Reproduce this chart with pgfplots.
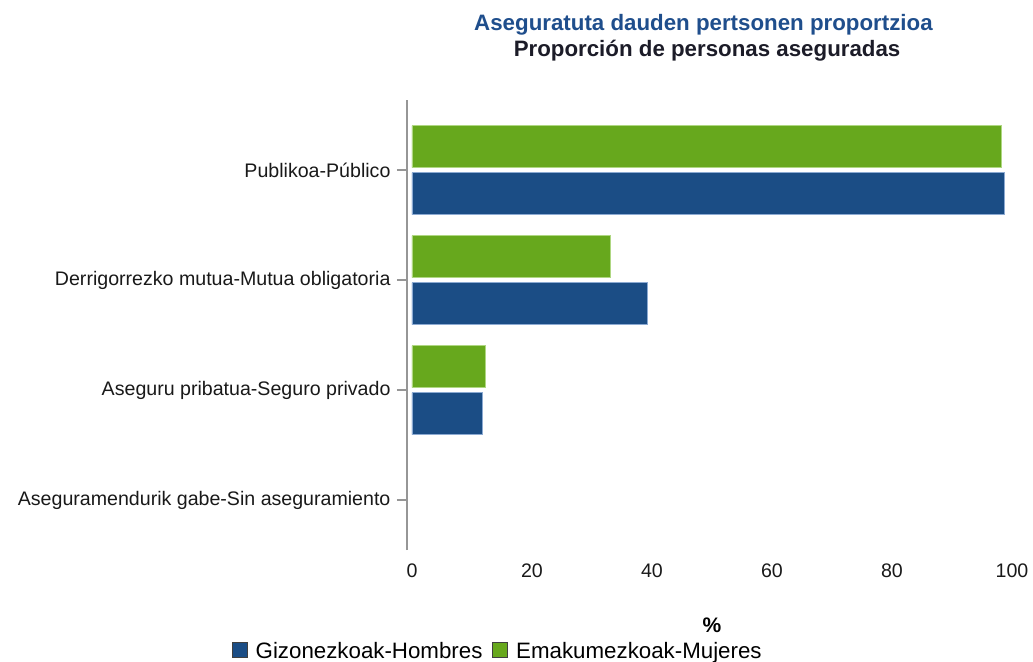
\documentclass[border=0pt]{standalone}
\usepackage{fontspec}
\setmainfont{Liberation Sans}
\usepackage{pgfplots}
\pgfplotsset{compat=1.18}
\definecolor{cblue}{RGB}{27,77,133}
\definecolor{cgreen}{RGB}{103,168,29}
\definecolor{cblueedge}{RGB}{140,170,210}
\definecolor{cgreenedge}{RGB}{175,215,130}
\definecolor{tblue}{RGB}{31,78,140}
\definecolor{tdark}{RGB}{28,28,40}
\definecolor{axgray}{RGB}{150,150,150}
\begin{document}
\begin{tikzpicture}
\begin{axis}[
  scale only axis, width=605bp, height=450bp,
  xmin=-0.8333, xmax=100, ymin=-0.4545, ymax=3.6364,
  xbar, bar width=42bp,
  clip=false,
  axis y line*=left, axis x line*=bottom,
  x axis line style={draw=none},
  y axis line style={axgray, line width=1.3bp},
  xtick={0,20,40,60,80,100},
  xtick style={draw=none},
  ytick={0,1,2,3},
  yticklabels={Aseguramendurik gabe-Sin aseguramiento,Aseguru pribatua-Seguro privado,Derrigorrezko mutua-Mutua obligatoria,Publikoa-Público},
  ytick style={axgray, line width=1.3bp},
  major tick length=10bp, tick align=outside,
  tick label style={font=\fontsize{19.6bp}{23bp}\selectfont, text=black!90},
  yticklabel style={xshift=-3bp},
  /pgf/number format/assume math mode=true,
  xlabel={\textbf{\%}},
  xlabel style={at={(axis description cs:0.504,-0.167)}, anchor=center, font=\fontsize{21bp}{25bp}\selectfont},
  x filter/.expression={x==0 ? nan : x},
  unbounded coords=discard,
  legend columns=2,
  legend style={at={(0.15,-0.224)}, anchor=center, draw=none, fill=none,
    font=\fontsize{22.3bp}{26bp}\selectfont,
    /tikz/every odd column/.append style={column sep=6bp},
    /tikz/every even column/.append style={column sep=8bp}},
  legend image code/.code={\draw[#1, draw=black!75, line width=0.8bp] (0bp,-7bp) rectangle (15bp,8bp);},
]
\addplot[fill=cblue, draw=cblueedge, line width=0.8bp, bar shift=-23.5bp] coordinates {
  (98.8,3) (39.2,2) (11.8,1) (0,0)
};
\addlegendentry{Gizonezkoak-Hombres}
\addplot[fill=cgreen, draw=cgreenedge, line width=0.8bp, bar shift=23.5bp] coordinates {
  (98.3,3) (33.0,2) (12.2,1) (0,0)
};
\addlegendentry{Emakumezkoak-Mujeres}
\node[font=\bfseries\fontsize{22.3bp}{26bp}\selectfont, text=tblue] at ([yshift=75bp]rel axis cs:0.49,1) {Aseguratuta dauden pertsonen proportzioa};
\node[font=\bfseries\fontsize{22.3bp}{26bp}\selectfont, text=tdark] at ([yshift=49bp]rel axis cs:0.496,1) {Proporción de personas aseguradas};
\end{axis}
\pgfresetboundingbox
\path (current axis.south west) ++(-407bp,-112bp) rectangle ++(1033bp,662bp);
\end{tikzpicture}
\end{document}
